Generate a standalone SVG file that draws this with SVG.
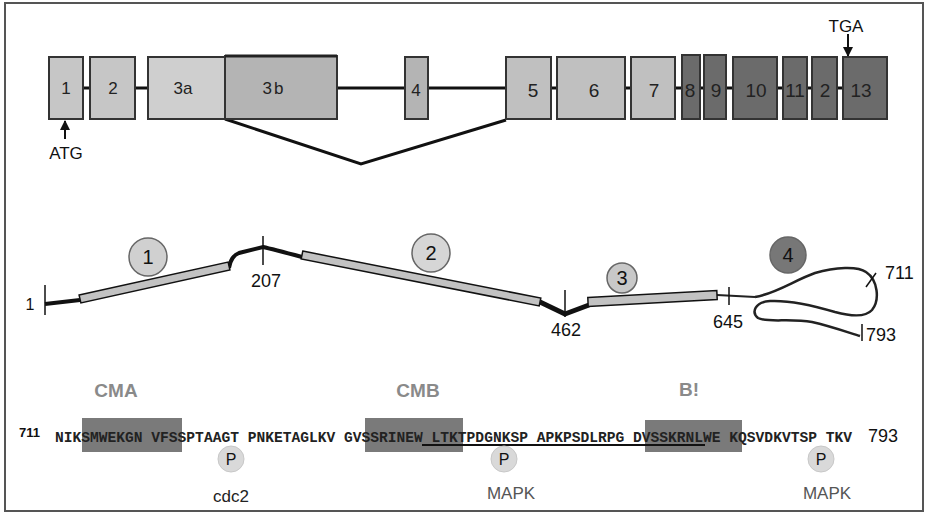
<svg xmlns="http://www.w3.org/2000/svg" width="928" height="513" viewBox="0 0 928 513">
<style>
.ex{stroke:#333;stroke-width:2}
.lt{fill:#c6c6c6}.lt2{fill:#cfcfcf}.md{fill:#b4b4b4}.md2{fill:#c0c0c0}.dk{fill:#6b6b6b}
.lbl{font-family:"Liberation Sans",Arial,sans-serif;font-size:17px;fill:#222;text-anchor:middle}
.lbr{font-family:"Liberation Sans",Arial,sans-serif;font-size:19px;fill:#222;text-anchor:middle}
.sans{font-family:"Liberation Sans",Arial,sans-serif;fill:#111}
.intr{stroke:#111;stroke-width:3;fill:none}
.bar{fill:#c2c2c2;stroke:#111;stroke-width:1.5}
.circ{stroke:#666;stroke-width:1.5}
.seq{font-family:"Liberation Mono","Courier New",monospace;font-weight:bold;font-size:14.6px;fill:#222}
.dom{font-family:"Liberation Sans",Arial,sans-serif;font-weight:bold;font-size:19px;fill:#8a8a8a;text-anchor:middle}
.pc{fill:#d9d9d9;stroke:#c8c8c8;stroke-width:1}
.kin{font-family:"Liberation Sans",Arial,sans-serif;font-size:17px;text-anchor:middle}
</style>
<defs>
<marker id="ah" viewBox="0 0 10 10" refX="9" refY="5" markerWidth="5" markerHeight="5" orient="auto"><path d="M0,0 L10,5 L0,10 z" fill="#111"/></marker>
</defs>
<rect x="5" y="3" width="918" height="508" fill="#fff" stroke="#555" stroke-width="2"/>

<g id="connectors">
<line class="intr" x1="83" y1="88" x2="90" y2="88"/>
<line class="intr" x1="135" y1="88" x2="148" y2="88"/>
<line class="intr" x1="337" y1="88" x2="405" y2="88"/>
<line class="intr" x1="428" y1="88" x2="506" y2="88"/>
<line class="intr" x1="551" y1="88" x2="557" y2="88"/>
<line class="intr" x1="625" y1="88" x2="631" y2="88"/>
<line class="intr" x1="675" y1="88" x2="682" y2="88"/>
<line class="intr" x1="700" y1="88" x2="704" y2="88"/>
<line class="intr" x1="726" y1="88" x2="733" y2="88"/>
<line class="intr" x1="777" y1="88" x2="783" y2="88"/>
<line class="intr" x1="807" y1="88" x2="812" y2="88"/>
<line class="intr" x1="837" y1="88" x2="843" y2="88"/>
<polyline class="intr" points="225,119 361,164 506,120"/>
<line x1="65" y1="139" x2="65" y2="121" stroke="#111" stroke-width="2" marker-end="url(#ah)"/>
<line x1="848" y1="34" x2="848" y2="56" stroke="#111" stroke-width="2" marker-end="url(#ah)"/>
</g>

<g id="exon1"><rect class="ex lt" x="49" y="57" width="34" height="62"/><text class="lbl" x="66" y="94">1</text></g>
<g id="exon2"><rect class="ex lt" x="90" y="57" width="45" height="62"/><text class="lbl" x="113" y="94">2</text></g>
<g id="exon3a"><rect class="ex lt2" x="148" y="57" width="77" height="62"/><text class="lbl" x="183" y="94">3a</text></g>
<g id="exon3b"><rect class="ex md" x="225" y="56" width="112" height="63"/><line x1="225" y1="56" x2="337" y2="56" stroke="#222" stroke-width="3"/><text class="lbl" x="274" y="94" letter-spacing="2">3b</text></g>
<g id="exon4"><rect class="ex md" x="405" y="57" width="23" height="62"/><text class="lbl" x="416" y="96">4</text></g>
<g id="exon5"><rect class="ex md2" x="506" y="57" width="45" height="62"/><text class="lbr" x="533" y="97">5</text></g>
<g id="exon6"><rect class="ex md2" x="557" y="57" width="68" height="62"/><text class="lbr" x="594" y="97">6</text></g>
<g id="exon7"><rect class="ex md2" x="631" y="57" width="44" height="62"/><text class="lbr" x="654" y="97">7</text></g>
<g id="exon8"><rect class="ex dk" x="682" y="55" width="18" height="64"/><text class="lbr" x="690" y="97">8</text></g>
<g id="exon9"><rect class="ex dk" x="704" y="55" width="22" height="64"/><text class="lbr" x="716" y="97">9</text></g>
<g id="exon10"><rect class="ex dk" x="733" y="57" width="44" height="62"/><text class="lbr" x="756" y="97">10</text></g>
<g id="exon11"><rect class="ex dk" x="783" y="57" width="24" height="62"/><text class="lbr" x="795" y="97" font-size="17">11</text></g>
<g id="exon12"><rect class="ex dk" x="812" y="57" width="25" height="62"/><text class="lbr" x="825" y="97">2</text></g>
<g id="exon13"><rect class="ex dk" x="843" y="57" width="44" height="62"/><text class="lbr" x="861" y="97">13</text></g>
<g id="atg"><text class="sans" x="66" y="159" font-size="17" text-anchor="middle">ATG</text></g>
<g id="tga"><text class="sans" x="846" y="32" font-size="17" text-anchor="middle">TGA</text></g>

<g id="protein">
<path d="M45,304 L80,300" stroke="#111" stroke-width="4" fill="none"/>
<path d="M229,268 Q231,256 239,253 L263,247 Q272,249 302,257" stroke="#111" stroke-width="4" fill="none"/>
<path d="M540,302 L565,314 L589,305" stroke="#111" stroke-width="5" fill="none" stroke-linejoin="round"/>
<path d="M717,295 L755,297" stroke="#222" stroke-width="2" fill="none"/>
<polygon class="bar" points="79.1,295.1 228.1,262.1 229.9,269.9 80.9,302.9"/>
<polygon class="bar" points="302.8,251.1 540.8,298.1 539.2,305.9 301.2,258.9"/>
<polygon class="bar" points="587.8,297.5 716.8,290.5 717.2,299.5 588.2,306.5"/>
<path d="M755,297 C775,294 795,280 815,273 C835,267 858,266 866,272 C878,280 880,300 872,310 C865,318 850,316 835,312 C815,306 790,300 770,301 C755,302 751,312 758,318 C767,323 790,318 812,322 C830,326 850,333 860,336" stroke="#222" stroke-width="2.5" fill="none"/>
<line x1="45" y1="285" x2="45" y2="315" stroke="#111" stroke-width="1.5"/>
<line x1="263" y1="236" x2="263" y2="265" stroke="#111" stroke-width="1.5"/>
<line x1="565" y1="290" x2="565" y2="317" stroke="#111" stroke-width="1.5"/>
<line x1="729" y1="287" x2="729" y2="305" stroke="#111" stroke-width="1.5"/>
<line x1="862" y1="324" x2="862" y2="341" stroke="#111" stroke-width="1.5"/>
<line x1="866" y1="287" x2="876" y2="273" stroke="#111" stroke-width="1.5"/>
<text class="sans" x="30" y="310" font-size="16" text-anchor="middle">1</text>
<text class="sans" x="266" y="287" font-size="18" text-anchor="middle">207</text>
<text class="sans" x="566" y="336" font-size="18" text-anchor="middle">462</text>
<text class="sans" x="728" y="328" font-size="18" text-anchor="middle">645</text>
<text class="sans" x="885" y="279" font-size="18">711</text>
<text class="sans" x="866" y="341" font-size="18">793</text>
</g>
<g id="region1"><circle class="circ" cx="148" cy="257" r="19" fill="#d0d0d0"/><text class="sans" x="148" y="264" font-size="20" text-anchor="middle">1</text></g>
<g id="region2"><circle class="circ" cx="431" cy="253" r="19" fill="#d6d6d6"/><text class="sans" x="431" y="260" font-size="20" text-anchor="middle">2</text></g>
<g id="region3"><circle class="circ" cx="622" cy="278" r="15" fill="#c8c8c8"/><text class="sans" x="622" y="285" font-size="20" text-anchor="middle">3</text></g>
<g id="region4"><circle class="circ" cx="788" cy="255" r="18" fill="#777"/><text class="sans" x="788" y="262" font-size="20" text-anchor="middle">4</text></g>

<g id="domains">
<rect x="82" y="418" width="100" height="34" fill="#7a7a7a"/>
<rect x="365" y="418" width="98" height="34" fill="#7a7a7a"/>
<rect x="645" y="420" width="97" height="32" fill="#7a7a7a"/>
<text class="dom" x="116" y="397">CMA</text>
<text class="dom" x="418" y="397">CMB</text>
<text class="dom" x="689" y="396">B!</text>
</g>
<g id="sequence">
<text class="sans" x="19" y="437" font-size="13" font-weight="bold">711</text>
<text class="seq" x="55" y="442" xml:space="preserve">NIKSMWEKGN VFSSPTAAGT PNKETAGLKV GVSSRINEW LTKTPDGNKSP APKPSDLRPG DVSSKRNLWE KQSVDKVTSP TKV</text>
<text class="sans" x="868" y="442" font-size="18">793</text>
<line x1="422" y1="445" x2="705" y2="445" stroke="#111" stroke-width="2"/>
</g>
<g id="p1"><circle class="pc" cx="231" cy="459" r="13"/><text class="sans" x="231" y="465" font-size="16" fill="#555" text-anchor="middle">P</text><text class="kin" x="231" y="502" fill="#222">cdc2</text></g>
<g id="p2"><circle class="pc" cx="504" cy="459" r="13"/><text class="sans" x="504" y="465" font-size="16" fill="#555" text-anchor="middle">P</text><text class="kin" x="511" y="499" fill="#555">MAPK</text></g>
<g id="p3"><circle class="pc" cx="821" cy="459" r="13"/><text class="sans" x="821" y="465" font-size="16" fill="#555" text-anchor="middle">P</text><text class="kin" x="827" y="499" fill="#555">MAPK</text></g>
</svg>
